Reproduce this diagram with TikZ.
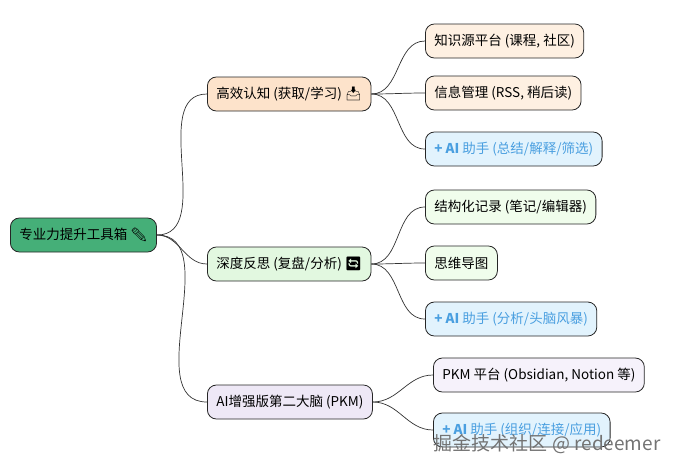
\documentclass[tikz,border=0pt]{standalone}
\usepackage{fontspec}
\setmainfont{Noto Sans CJK SC}
\newfontfamily\emo{Noto Emoji}
\begin{document}
\begin{tikzpicture}[x=1pt,y=-1pt,
  box/.style={draw=black!85,line width=0.8pt,rounded corners=9pt,minimum height=34pt,inner xsep=9pt,font=\fontsize{13.5}{15}\selectfont,anchor=west},
  aibox/.style={box,fill=aiblue,text=aitext},
  link/.style={draw=black!80,line width=0.7pt,out=0,in=180}]
\definecolor{rootg}{HTML}{45AF78}
\definecolor{peach}{HTML}{FDE3CB}
\definecolor{peachl}{HTML}{FEF0E2}
\definecolor{mint}{HTML}{E2F8E0}
\definecolor{mintl}{HTML}{F0FDEC}
\definecolor{lav}{HTML}{EEE8F6}
\definecolor{lavl}{HTML}{F6F2FB}
\definecolor{aiblue}{HTML}{E2F3FD}
\definecolor{aitext}{HTML}{4A9FE0}
\useasboundingbox (0,0) rectangle (674,472);
\node[box,fill=rootg] (root) at (10,235) {专业力提升工具箱 {\emo ✏}};
\node[box,fill=peach] (a1) at (207,94) {高效认知 (获取/学习) {\emo 📥}};
\node[box,fill=mint] (a2) at (207,264) {深度反思 (复盘/分析) {\emo 🔄}};
\node[box,fill=lav] (a3) at (207,402) {AI增强版第二大脑 (PKM)};
\node[box,fill=peachl] (b1) at (425,41) {知识源平台 (课程, 社区)};
\node[box,fill=peachl] (b2) at (425,93) {信息管理 (RSS, 稍后读)};
\node[aibox] (b3) at (425,149) {\textbf{+ AI} 助手 (总结/解释/筛选)};
\node[box,fill=mintl] (c1) at (425,207) {结构化记录 (笔记/编辑器)};
\node[box,fill=mintl] (c2) at (425,263) {思维导图};
\node[aibox] (c3) at (425,319) {\textbf{+ AI} 助手 (分析/头脑风暴)};
\node[box,fill=lavl] (d1) at (433,375) {PKM 平台 (Obsidian, Notion 等)};
\node[aibox] (d2) at (433,430) {\textbf{+ AI} 助手 (组织/连接/应用)};
\foreach \p/\c in {root/a1,root/a2,root/a3,a1/b1,a1/b2,a1/b3,a2/c1,a2/c2,a2/c3,a3/d1,a3/d2}
  \draw[link] (\p.east) to (\c.west);
\node[font=\fontsize{19}{21}\selectfont,text=black!55,anchor=east] (wm) at (664,444) {掘金技术社区 @ redeemer};
\end{tikzpicture}
\end{document}
